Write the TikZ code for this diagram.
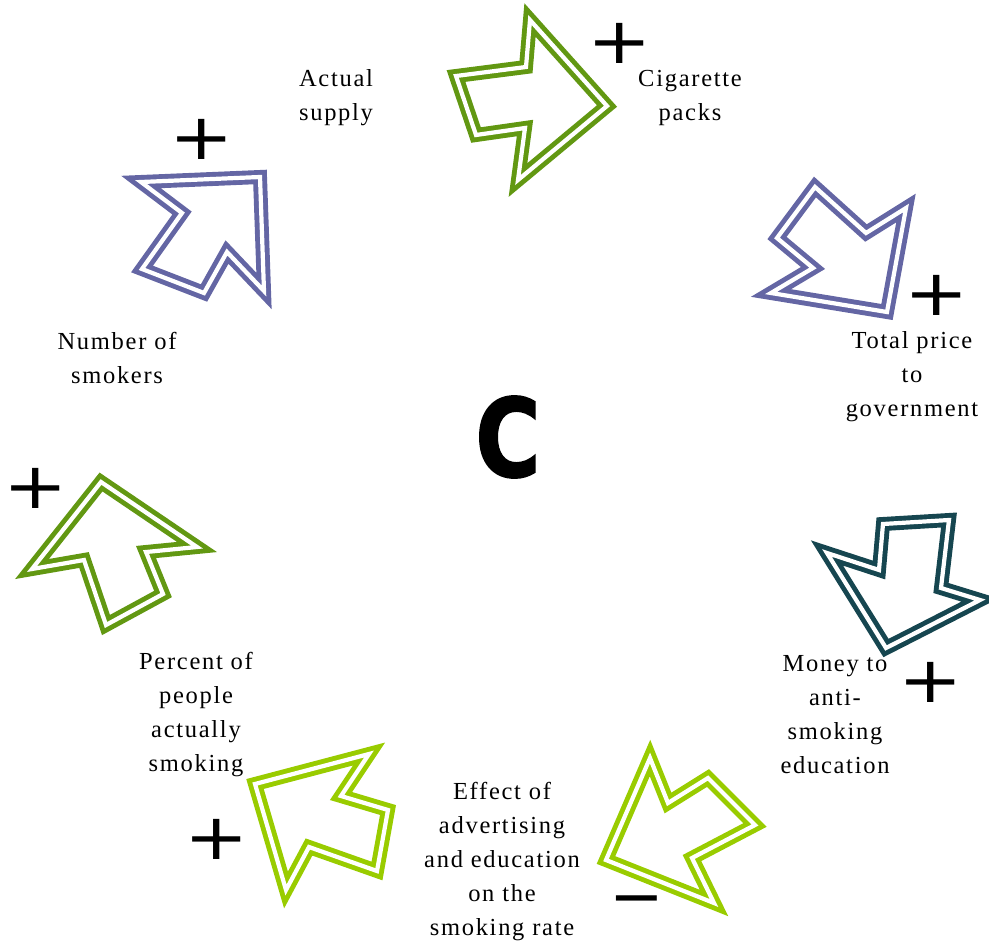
\documentclass[tikz,border=0pt]{standalone}
\usepackage{fontspec}
\setmainfont{Liberation Serif}[LetterSpace=7]
\newfontfamily\symfont{DejaVu Sans}
\newfontfamily\bigfont{DejaVu Sans}[FakeBold=2]
\definecolor{cgreen}{RGB}{98,152,18}
\definecolor{cyellow}{RGB}{153,204,0}
\definecolor{cpurple}{RGB}{100,102,164}
\definecolor{cteal}{RGB}{22,70,80}
\begin{document}
\begin{tikzpicture}[x=1pt,y=-1pt,
  arrowshape/.style={line width=4.9pt, double=white, double distance=4.2pt, line join=miter},
  lbl/.style={align=center, font=\fontsize{24.5}{34}\selectfont, inner sep=0pt},
  sign/.style={font=\symfont\fontsize{64}{64}\selectfont, inner sep=0pt, xscale=1.2, text height=38pt, text depth=-7pt}]
\useasboundingbox (0,0) rectangle (989,943);
% arrows
\draw[arrowshape, cgreen] (456,76) -- (526,67) -- (530,20) -- (607,106) -- (518,180) -- (525,128) -- (476,135) -- cycle;
\draw[arrowshape, cpurple] (815,187) -- (866,233) -- (906,208) -- (887,312) -- (771,293) -- (813,268) -- (777,238) -- cycle;
\draw[arrowshape, cteal] (883,524) -- (949,520) -- (941,588) -- (980,600) -- (886,648) -- (827,553) -- (879,570) -- cycle;
\draw[arrowshape, cyellow] (650,758) -- (668,803) -- (708,778) -- (755,825) -- (692,858) -- (714,903) -- (606,860) -- cycle;
\draw[arrowshape, cyellow] (255,784) -- (369,754) -- (341,796) -- (388,810) -- (377,871) -- (309,847) -- (286,890) -- cycle;
\draw[arrowshape, cgreen] (101,482) -- (197,547) -- (146,552) -- (163,594) -- (106,625) -- (84,560) -- (32,569) -- cycle;
\draw[arrowshape, cpurple] (141,182) -- (260,177) -- (264,291) -- (227,252) -- (204,293) -- (142,269) -- (182,213) -- cycle;
% labels
\node[lbl] (supply) at (336,98) {Actual\\supply};
\node[lbl] (packs) at (690,98) {Cigarette\\packs};
\node[lbl] (price) at (912,377) {Total price\\to\\government};
\node[lbl] (money) at (835,715) {Money to\\anti-\\smoking\\education};
\node[lbl] (effect) at (502,862) {Effect of\\advertising\\and education\\on the\\smoking rate};
\node[lbl] (percent) at (196,715) {Percent of\\people\\actually\\smoking};
\node[lbl] (smokers) at (117,358) {Number of\\smokers};
\node[font=\bigfont\fontsize{108}{108}\selectfont\bfseries, inner sep=0pt, xscale=0.82] (c) at (508,437) {C};
% signs
\node[sign] (p1) at (620,44) {+};
\node[sign] (p2) at (202,140) {+};
\node[sign] (p3) at (937,296) {+};
\node[sign] (p4) at (36,489) {+};
\node[sign] (p5) at (931,683) {+};
\node[sign] (p6) at (217,840) {+};
\node[sign, xscale=0.85] (m1) at (637,899) {−};
\end{tikzpicture}
\end{document}
